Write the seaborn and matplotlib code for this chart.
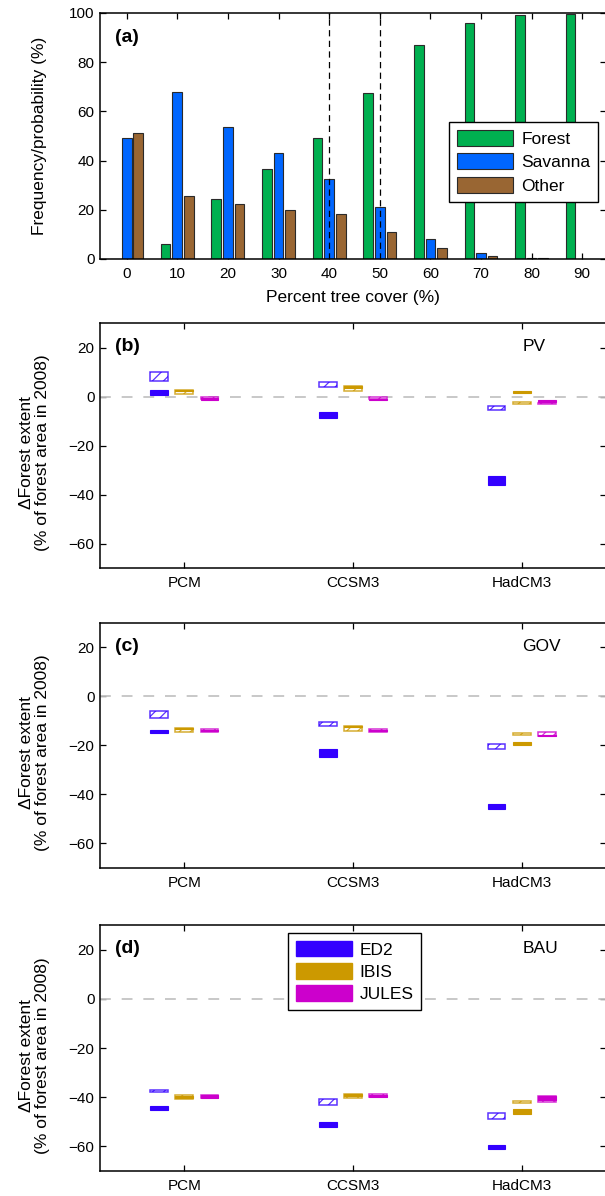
import numpy as np
import pandas as pd
import matplotlib
matplotlib.use("Agg")
import matplotlib.pyplot as plt
import seaborn as sns
from matplotlib.patches import Patch
from matplotlib.colors import to_rgba

# ---------------- data: panel (a) ----------------
cover = [0, 10, 20, 30, 40, 50, 60, 70, 80, 90]
forest = [0.0, 6.3, 24.2, 36.6, 49.0, 67.4, 87.1, 96.1, 99.0, 99.7]
savanna = [49.0, 67.8, 53.5, 43.2, 32.7, 21.3, 8.2, 2.3, 0.4, 0.15]
other = [51.1, 25.7, 22.3, 20.1, 18.1, 11.1, 4.6, 1.4, 0.5, 0.15]
cover_classes = ["Forest", "Savanna", "Other"]
thresholds = [40, 50]

# ---------------- data: panels (b)-(d) ----------------
climate_models = ["PCM", "CCSM3", "HadCM3"]
veg_models = ["ED2", "IBIS", "JULES"]
scenarios = ["PV", "GOV", "BAU"]
panel_letters = ["(b)", "(c)", "(d)"]

# ranges (low, high) per climate model (rows) and vegetation model (columns)
pv_hatched = [[(6.3, 9.8), (0.9, 2.8), (-1.0, -0.4)],
              [(3.9, 5.9), (2.3, 4.3), (-1.0, -0.4)],
              [(-5.4, -3.9), (-3.0, -2.3), (-3.1, -2.6)]]
pv_solid = [[(0.5, 2.6), (2.3, 2.8), (-1.4, -0.8)],
            [(-8.8, -6.4), (3.6, 4.3), (-1.4, -0.9)],
            [(-36.1, -32.5), (1.5, 2.2), (-2.3, -1.5)]]

gov_hatched = [[(-8.7, -6.0), (-14.3, -12.9), (-14.3, -13.3)],
               [(-12.2, -10.5), (-13.9, -12.0), (-14.3, -13.2)],
               [(-21.5, -19.5), (-15.7, -14.8), (-16.1, -14.4)]]
gov_solid = [[(-14.8, -13.7), (-13.4, -12.9), (-14.1, -13.5)],
             [(-24.5, -21.5), (-12.6, -12.0), (-14.1, -13.5)],
             [(-46.0, -44.0), (-19.7, -18.6), (-16.1, -15.6)]]

bau_hatched = [[(-38.0, -37.0), (-40.7, -39.0), (-40.3, -39.0)],
               [(-43.0, -40.7), (-40.5, -38.8), (-39.9, -38.6)],
               [(-48.7, -46.4), (-42.4, -41.6), (-41.9, -39.5)]]
bau_solid = [[(-45.0, -43.7), (-40.3, -39.6), (-40.3, -39.2)],
             [(-52.1, -50.1), (-39.5, -38.8), (-39.9, -39.2)],
             [(-61.0, -59.5), (-46.7, -44.9), (-41.2, -39.5)]]

# ---------------- style ----------------
class_colors = ["#00b050", "#0066ff", "#996633"]
veg_colors = ["#3300ff", "#cc9900", "#cc00cc"]

sns.set_theme(style="ticks")
plt.rcParams["font.family"] = ["Liberation Sans", "DejaVu Sans"]
plt.rcParams["hatch.linewidth"] = 0.9
plt.rcParams["axes.unicode_minus"] = True
plt.rcParams["text.color"] = "black"
plt.rcParams["axes.labelcolor"] = "black"
plt.rcParams["xtick.color"] = "black"
plt.rcParams["ytick.color"] = "black"

W, H = 605, 1196
fig = plt.figure(figsize=(W / 100, H / 100), dpi=100)


def ax_at(left, top, right, bottom):
    return fig.add_axes([left / W, 1 - bottom / H, (right - left) / W, (bottom - top) / H])


def style_axes(ax):
    for s in ax.spines.values():
        s.set_visible(True)
        s.set_color("black")
        s.set_linewidth(1.1)
    ax.tick_params(direction="in", top=True, right=True, length=4, width=0.9,
                   labelsize=11, colors="black")
    ax.tick_params(axis="x", pad=6)
    ax.tick_params(axis="y", pad=4)
    ax.set_facecolor("white")


# ---------------- panel (a) ----------------
axa = ax_at(100, 13, 606, 259)
df = pd.DataFrame({
    "cover": cover * 3,
    "value": forest + savanna + other,
    "type": [c for c in cover_classes for _ in cover],
})
sns.barplot(data=df, x="cover", y="value", hue="type", order=cover,
            hue_order=cover_classes, palette=class_colors, saturation=1,
            width=0.69, gap=0.17, edgecolor="#2a2a2a", linewidth=0.8,
            legend=False, ax=axa)
for t in thresholds:
    axa.axvline(cover.index(t), color="black", lw=0.9, dashes=(5, 3.5), zorder=6)
axa.set_xlim(-0.527, 9.47)
axa.set_ylim(0, 100)
axa.set_yticks([0, 20, 40, 60, 80, 100])
axa.set_xticks(range(len(cover)))
axa.set_xticklabels([str(c) for c in cover])
style_axes(axa)
axa.set_xlabel("Percent tree cover (%)", fontsize=12.5, color="black")
axa.set_ylabel("Frequency/probability (%)", fontsize=12.5, color="black")
axa.xaxis.set_label_coords(0.5, -0.125)
axa.yaxis.set_label_coords(-0.105, 0.5)
axa.text(0.03, 0.90, "(a)", transform=axa.transAxes, fontsize=14,
         fontweight="bold", ha="left", va="center", color="black")
handles_a = [Patch(facecolor=c, edgecolor="#2a2a2a", linewidth=0.8) for c in class_colors]
leg = axa.legend(handles_a, cover_classes, loc="upper left",
                 bbox_to_anchor=(0.690, 0.557), borderaxespad=0,
                 fontsize=12.5, handlelength=3.2, handleheight=1.05,
                 labelspacing=0.38, handletextpad=0.5, borderpad=0.45,
                 fancybox=False, framealpha=1, edgecolor="black")
leg.get_frame().set_linewidth(1.0)

# ---------------- panels (b)-(d) ----------------
hatched_sets = [pv_hatched, gov_hatched, bau_hatched]
solid_sets = [pv_solid, gov_solid, bau_solid]
tops = [323, 623, 925]
bottoms = [568, 868, 1171]
dodge = 0.15
box_w = 0.105
xpos = np.arange(len(climate_models))

for k in range(3):
    ax = ax_at(100, tops[k], 606, bottoms[k])
    ax.axhline(0, color="#c4c4c4", lw=1.3, dashes=(6, 6), zorder=1)
    for j, veg in enumerate(veg_models):
        x = xpos + (j - 1) * dodge
        hl = np.array([hatched_sets[k][i][j][0] for i in range(3)])
        hh = np.array([hatched_sets[k][i][j][1] for i in range(3)])
        sl = np.array([solid_sets[k][i][j][0] for i in range(3)])
        sh = np.array([solid_sets[k][i][j][1] for i in range(3)])
        ax.bar(x, hh - hl, bottom=hl, width=box_w, facecolor="white",
               edgecolor=to_rgba(veg_colors[j], 0.8), hatch="///",
               linewidth=1.1, zorder=3)
        ax.bar(x, sh - sl, bottom=sl, width=box_w, facecolor=veg_colors[j],
               edgecolor=veg_colors[j], linewidth=0.8, zorder=4)
    ax.set_xlim(-0.5, 2.5)
    ax.set_ylim(-70, 30)
    ax.set_yticks([-60, -40, -20, 0, 20])
    ax.set_xticks(xpos)
    ax.set_xticklabels(climate_models)
    style_axes(ax)
    ax.set_ylabel("\u0394Forest extent\n(% of forest area in 2008)",
                  fontsize=12.5, color="black", linespacing=1.15)
    ax.yaxis.set_label_coords(-0.098, 0.47)
    ax.text(0.03, 0.905, panel_letters[k], transform=ax.transAxes, fontsize=14,
            fontweight="bold", ha="left", va="center", color="black")
    ax.text(0.835, 0.904, scenarios[k], transform=ax.transAxes, fontsize=12.5,
            ha="left", va="center", color="black")
    if k == 2:
        handles = [Patch(facecolor=c, edgecolor=c) for c in veg_colors]
        lg = ax.legend(handles, veg_models, loc="upper left",
                       bbox_to_anchor=(0.372, 0.967), borderaxespad=0,
                       fontsize=12.5, handlelength=3.2, handleheight=1.0,
                       labelspacing=0.32, handletextpad=0.45, borderpad=0.45,
                       fancybox=False, framealpha=1, edgecolor="black")
        lg.get_frame().set_linewidth(1.0)

fig.savefig("out.png", dpi=100)
